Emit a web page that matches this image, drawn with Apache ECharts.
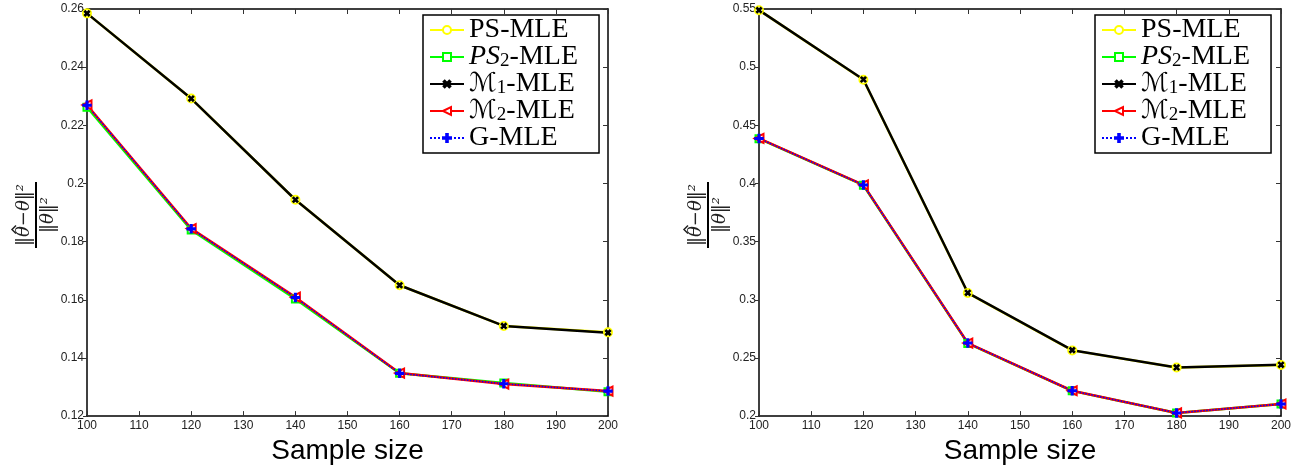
<!DOCTYPE html>
<html>
<head>
<meta charset="utf-8">
<script src="https://cdn.jsdelivr.net/npm/echarts@6/dist/echarts.min.js"></script>
<style>
html,body{margin:0;padding:0;background:#fff;}
#chart{width:1299px;height:470px;}
</style>
</head>
<body>
<div id="chart"></div>
<script>
// ---------------- DATA ----------------
const sampleSizes = [100, 120, 140, 160, 180, 200];
const seriesNames = ['PS-MLE', 'PS2-MLE', 'M1-MLE', 'M2-MLE', 'G-MLE'];

// Left panel
const leftPS  = [0.2585, 0.2292, 0.1944, 0.1650, 0.1510, 0.1488];
const leftPS2 = [0.2262, 0.1840, 0.1603, 0.1347, 0.1314, 0.1284];
const leftM1  = [0.2585, 0.2292, 0.1944, 0.1650, 0.1510, 0.1487];
const leftM2  = [0.2270, 0.1845, 0.1609, 0.1348, 0.1310, 0.1286];
const leftG   = [0.2269, 0.1844, 0.1608, 0.1347, 0.1311, 0.1286];

// Right panel
const rightPS  = [0.5490, 0.4892, 0.3058, 0.2565, 0.2418, 0.2440];
const rightPS2 = [0.4385, 0.3985, 0.2625, 0.2217, 0.2027, 0.2105];
const rightM1  = [0.5490, 0.4894, 0.3060, 0.2567, 0.2418, 0.2441];
const rightM2  = [0.4387, 0.3988, 0.2628, 0.2218, 0.2027, 0.2104];
const rightG   = [0.4387, 0.3987, 0.2628, 0.2218, 0.2027, 0.2104];

const xMin = 100, xMax = 200, xStep = 10;
const leftYMin = 0.12, leftYMax = 0.26, leftYStep = 0.02;
const rightYMin = 0.20, rightYMax = 0.55, rightYStep = 0.05;
const xAxisTitle = 'Sample size';

// ---------------- STYLES ----------------
const plusPath = 'path://M4,0H6V4H10V6H6V10H4V6H0V4H4Z';
const styles = {
  'PS-MLE':  {color:'#ffff00', symbol:'emptyCircle', symbolSize:8, width:2.5, type:'solid', rotate:0},
  'PS2-MLE': {color:'#00ff00', symbol:'emptyRect', symbolSize:7, width:2.5, type:'solid', rotate:0},
  'M1-MLE':  {color:'#000000', symbol:plusPath, symbolSize:6, width:2.5, type:'solid', rotate:45},
  'M2-MLE':  {color:'#ff0000', symbol:'emptyTriangle', symbolSize:9, width:2.5, type:'solid', rotate:90},
  'G-MLE':   {color:'#0000ff', symbol:plusPath, symbolSize:8, width:1.5, type:'dotted', rotate:0}
};

function pairs(vals){ return sampleSizes.map((x,i)=>[x, vals[i]]); }

function makeSeries(name, vals, gi){
  const s = styles[name];
  return {
    name: name, type:'line', xAxisIndex: gi*2, yAxisIndex: gi*2,
    data: pairs(vals),
    symbol: s.symbol, symbolSize: s.symbolSize, symbolRotate: s.rotate, symbolKeepAspect:true,
    showAllSymbol:true,
    lineStyle:{color:s.color, width:s.width, type:s.type},
    itemStyle:{color:s.color, borderColor:s.color, borderWidth: 1.5},
    emphasis:{disabled:true},
    z: 2
  };
}

const grids = [
  {left:87, top:9, width:521, height:410},
  {left:759, top:9, width:522, height:410}
];

const labelFont = {fontFamily:'Liberation Sans, Arial, sans-serif', fontSize:12, color:'#222'};
function yFmt(v){ return String(parseFloat(v.toFixed(2))); }

const xAxes = [], yAxes = [];
[0,1].forEach(gi=>{
  xAxes.push({
    type:'value', gridIndex:gi, min:xMin, max:xMax, interval:xStep, position:'bottom',
    name: xAxisTitle, nameLocation:'middle', nameGap:19,
    nameTextStyle:{fontFamily:'Liberation Sans, Arial, sans-serif', fontSize:28, color:'#000'},
    axisLine:{show:true, onZero:false, lineStyle:{color:'#000', width:1.5}},
    axisTick:{show:true, inside:true, length:5, lineStyle:{color:'#333', width:1}},
    axisLabel:Object.assign({margin:4}, labelFont),
    splitLine:{show:false}
  });
  xAxes.push({
    type:'value', gridIndex:gi, min:xMin, max:xMax, interval:xStep, position:'top',
    axisLine:{show:true, onZero:false, lineStyle:{color:'#000', width:1.5}},
    axisTick:{show:true, inside:true, length:5, lineStyle:{color:'#333', width:1}},
    axisLabel:{show:false}, splitLine:{show:false}
  });
  const ymin = gi===0 ? leftYMin : rightYMin;
  const ymax = gi===0 ? leftYMax : rightYMax;
  const ystep = gi===0 ? leftYStep : rightYStep;
  yAxes.push({
    type:'value', gridIndex:gi, min:ymin, max:ymax, interval:ystep, position:'left',
    axisLine:{show:true, onZero:false, lineStyle:{color:'#000', width:1.5}},
    axisTick:{show:true, inside:false, length:4, lineStyle:{color:'#333', width:1}},
    axisLabel:Object.assign({margin:3, formatter:yFmt}, labelFont),
    splitLine:{show:false}
  });
  yAxes.push({
    type:'value', gridIndex:gi, min:ymin, max:ymax, interval:ystep, position:'right',
    axisLine:{show:true, onZero:false, lineStyle:{color:'#000', width:1.5}},
    axisTick:{show:true, inside:true, length:5, lineStyle:{color:'#333', width:1}},
    axisLabel:{show:false}, splitLine:{show:false}
  });
});

const series = [];
const leftVals = [leftPS, leftPS2, leftM1, leftM2, leftG];
const rightVals = [rightPS, rightPS2, rightM1, rightM2, rightG];
seriesNames.forEach((n,i)=>series.push(makeSeries(n, leftVals[i], 0)));
seriesNames.forEach((n,i)=>series.push(makeSeries(n, rightVals[i], 1)));

function legendFmt(name){
  if(name==='PS2-MLE') return '{it|PS}{sub|2}-MLE';
  if(name==='M1-MLE') return '{cal|ℳ}{sub|1}-MLE';
  if(name==='M2-MLE') return '{cal|ℳ}{sub|2}-MLE';
  return name;
}
const legendText = {
  fontFamily:'Liberation Serif, Times New Roman, serif', fontSize:28, color:'#000',
  rich:{
    it:{fontFamily:'Liberation Serif, serif', fontStyle:'italic', fontSize:28, color:'#000'},
    cal:{fontFamily:'DejaVu Serif, DejaVu Sans, serif', fontStyle:'italic', fontSize:26, color:'#000'},
    sub:{fontFamily:'Liberation Serif, serif', fontSize:19, color:'#000', verticalAlign:'bottom'}
  }
};
function makeLegend(left){
  return {
    orient:'vertical', left:left, top:15,
    padding:[1,21,1,6], itemGap:-1, itemWidth:34, itemHeight:10,
    borderColor:'#000', borderWidth:1.5, backgroundColor:'#fff',
    textStyle:legendText, formatter:legendFmt, data:seriesNames,
    selectedMode:false
  };
}

// measure glyphs for placing the hat over the first theta
const fracFont = 'italic 18px "DejaVu Serif", serif';
const mctx = document.createElement('canvas').getContext('2d');
mctx.font = fracFont;
const numStr = '‖θ−θ‖²';
const wNum = mctx.measureText(numStr).width;
const wBar = mctx.measureText('‖').width;
const wTheta = mctx.measureText('θ').width;
const hatX = -wNum/2 + wBar + wTheta/2 + 2;

function fraction(x, y){
  const txt = {fontFamily:'DejaVu Serif, serif', fontStyle:'italic', fontSize:18, fill:'#222', align:'center'};
  return {
    type:'group', x:x, y:y, rotation:Math.PI/2,
    children:[
      {type:'text', x:0, y:-3, style:Object.assign({text:numStr, verticalAlign:'bottom'}, txt)},
      {type:'polyline', z:10, shape:{points:[[hatX-4,-20],[hatX,-24],[hatX+4,-20]]}, style:{stroke:'#222', lineWidth:1.5, fill:null}},
      {type:'line', shape:{x1:-33, y1:0, x2:33, y2:0}, style:{stroke:'#000', lineWidth:2}},
      {type:'text', x:0, y:3, style:Object.assign({text:'‖θ‖²', verticalAlign:'top'}, txt)}
    ]
  };
}

const option = {
  animation:false,
  backgroundColor:'#fff',
  grid: grids,
  xAxis: xAxes,
  yAxis: yAxes,
  legend: [makeLegend(423), makeLegend(1095)],
  graphic: [fraction(36, 215), fraction(708, 215)],
  series: series
};

const chart = echarts.init(document.getElementById('chart'), null, {renderer:'canvas'});
chart.setOption(option);
</script>
</body>
</html>
